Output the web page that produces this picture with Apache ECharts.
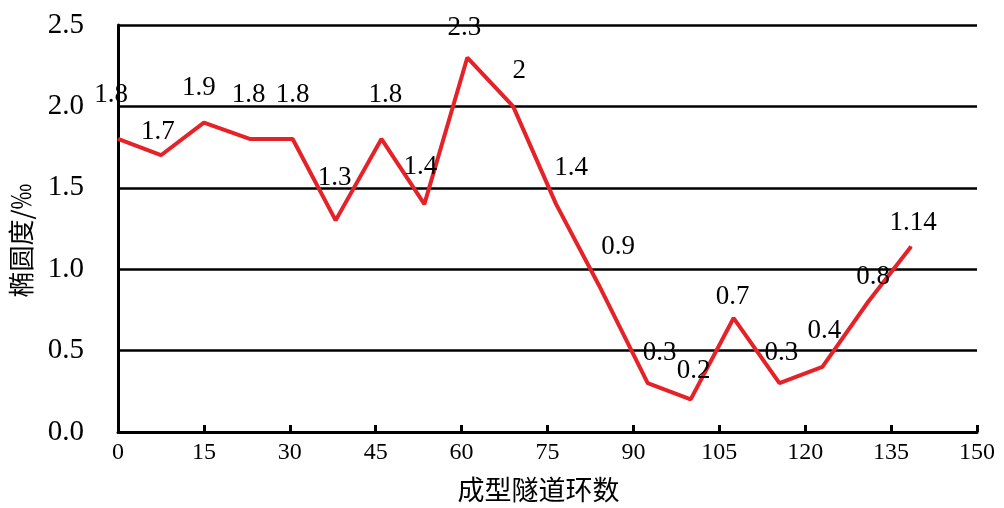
<!DOCTYPE html>
<html>
<head>
<meta charset="utf-8">
<script src="https://cdn.jsdelivr.net/npm/echarts@6/dist/echarts.min.js"></script>
<style>
html,body{margin:0;padding:0;background:#fff;}
#c{width:1004px;height:508px;}
</style>
</head>
<body>
<div id="c"></div>
<script>
// ring numbers (x) and ovality values (y)
const rings = [0, 7.5, 15, 23, 30.5, 38, 46, 53.5, 61, 69, 76.5, 84, 92.5, 100, 107.5, 115.5, 123, 131, 138.5];
const ovality = [1.8, 1.7, 1.9, 1.8, 1.8, 1.3, 1.8, 1.4, 2.3, 2, 1.4, 0.9, 0.3, 0.2, 0.7, 0.3, 0.4, 0.8, 1.14];
const xTicks = [0, 15, 30, 45, 60, 75, 90, 105, 120, 135, 150];
const yTicks = [0, 0.5, 1.0, 1.5, 2.0, 2.5];

// label nudges (style only)
const labelNudge = [[-7,-47],[-3,-26],[-5,-37],[-1,-47],[0,-47],[-1,-45],[4,-47],[-4,-40],[-3,-32],[6,-38],[15,-39],[19,-41],[12,-33],[3,-31],[-1,-24],[2,-33],[2,-38],[5,-27],[2,-26]];

const LH = 27;
const seriesData = rings.map((x, i) => [x, ovality[i]]);

const chart = echarts.init(document.getElementById('c'));
chart.setOption({
  animation: false,
  backgroundColor: '#fff',
  grid: { left: 118, right: 27, top: 25, bottom: 73, containLabel: false },
  xAxis: {
    type: 'value',
    min: xTicks[0],
    max: xTicks[xTicks.length - 1],
    interval: xTicks[1] - xTicks[0],
    name: '成型隧道环数',
    nameLocation: 'middle',
    nameGap: 44,
    nameTextStyle: { fontFamily: 'Noto Sans CJK SC', fontSize: 27, color: '#000', padding: [0, 18, 0, 0] },
    axisLine: { show: true, lineStyle: { color: '#000', width: 3 } },
    axisTick: { show: true, inside: true, length: 7, lineStyle: { color: '#000', width: 3 } },
    axisLabel: { fontFamily: 'Liberation Serif', fontSize: 24, color: '#000', margin: 9 },
    splitLine: { show: false }
  },
  yAxis: {
    type: 'value',
    min: yTicks[0],
    max: yTicks[yTicks.length - 1],
    interval: yTicks[1] - yTicks[0],
    name: '椭圆度/‰',
    nameLocation: 'middle',
    nameGap: 84,
    nameTextStyle: { fontFamily: 'Noto Sans CJK SC', fontSize: 26, color: '#000', padding: [0, 0, 0, -24] },
    axisLine: { show: true, lineStyle: { color: '#000', width: 3 } },
    axisTick: { show: false },
    axisLabel: { fontFamily: 'Liberation Serif', fontSize: 29, color: '#000', margin: 34,
      formatter: v => v.toFixed(1) },
    splitLine: { show: true, lineStyle: { color: '#000', width: 2.5 } }
  },
  series: [{
    type: 'line',
    data: seriesData,
    symbol: 'circle',
    symbolSize: 1,
    showSymbol: true,
    lineStyle: { color: '#e52228', width: 4 },
    itemStyle: { color: '#e52228' },
    labelLayout: p => ({
      dx: labelNudge[p.dataIndex][0],
      dy: labelNudge[p.dataIndex][1] + LH / 2 + 3,
      hideOverlap: false
    }),
    label: {
      show: true,
      position: 'top',
      distance: 0,
      fontFamily: 'Liberation Serif',
      fontSize: 27,
      lineHeight: LH,
      color: '#000',
      formatter: p => String(p.value[1])
    }
  }]
});
</script>
</body>
</html>
